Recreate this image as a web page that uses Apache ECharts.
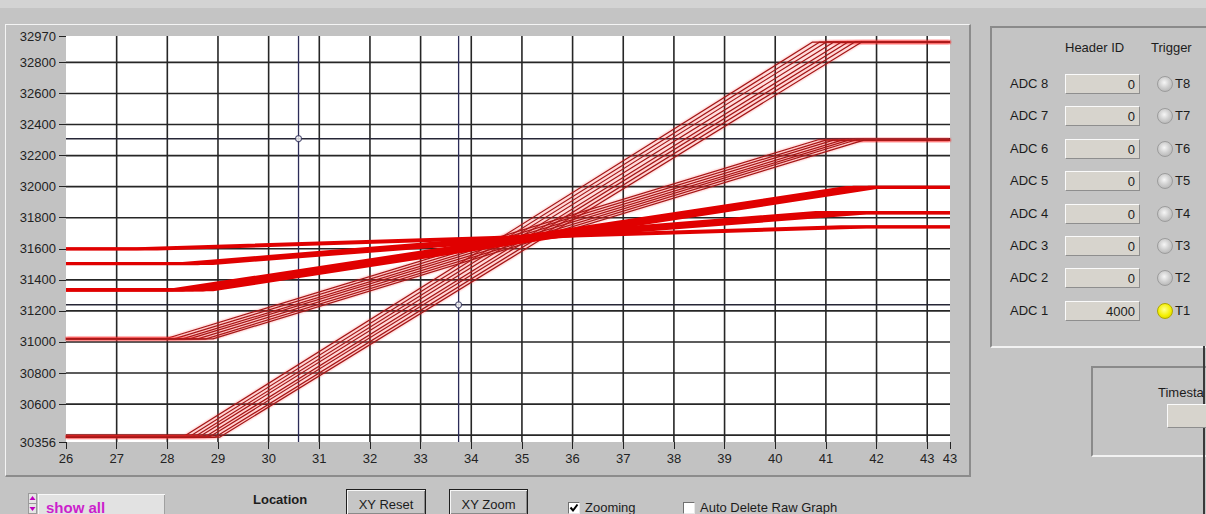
<!DOCTYPE html>
<html>
<head>
<meta charset="utf-8">
<script src="https://cdn.jsdelivr.net/npm/echarts@6/dist/echarts.min.js"></script>
<style>
  body { margin: 0; width: 1206px; height: 514px; background: #c4c4c4; position: relative; overflow: hidden;
         font-family: "Liberation Sans", Arial, sans-serif; color: #1c1c1c; }
  .abs { position: absolute; }
  #topband { left: 0; top: 0; width: 1206px; height: 8px; background: #d3d3d3; }
  #frame { left: 5px; top: 24px; width: 963px; height: 450px; border-top: 1px solid #f4f4f4; border-left: 1px solid #f4f4f4;
           border-right: 2px solid #8c8c8c; border-bottom: 2px solid #8c8c8c; background: #c2c2c2; }
  #chart { left: 0; top: 0; width: 1206px; height: 514px; }
  #adcPanel { left: 990px; top: 26px; width: 230px; height: 318px; border-top: 2px solid #8a8a8a; border-left: 2px solid #8a8a8a;
              border-bottom: 2px solid #f2f2f2; }
  #tsPanel { left: 1091px; top: 366px; width: 130px; height: 87px; border-top: 2px solid #8a8a8a; border-left: 2px solid #8a8a8a;
             border-bottom: 2px solid #f2f2f2; }
  #rightEdge { left: 1203px; top: 346px; width: 2px; height: 168px; background: #3a3a3a; }
  .lbl { font-size: 13px; white-space: nowrap; }
  .box { width: 75px; height: 20px; background: #d7d4cd; border-top: 1px solid #fafafa; border-left: 1px solid #fafafa;
         border-right: 1px solid #8e8e8e; border-bottom: 1px solid #8e8e8e; box-sizing: border-box; text-align: right;
         font-size: 13px; line-height: 19px; padding-right: 4px; }
  .led { width: 16px; height: 16px; border-radius: 50%; box-sizing: border-box; border: 1px solid #9c9c9c;
         background: radial-gradient(circle at 45% 40%, #f6f6f6 0%, #d0d0d0 45%, #a8a8a8 100%); }
  .led.on { background: radial-gradient(circle at 45% 40%, #ffff90 0%, #f4f000 55%, #c8c000 100%); border-color: #b0a800; }
  .btn { height: 26px; background: #c6c6c6; border: 1px solid #1e1e1e; box-shadow: inset 1px 1px 0 #f6f6f6, inset -1px -1px 0 #8a8a8a;
         box-sizing: border-box; font-size: 13px; text-align: center; line-height: 30px; }
  .chk { width: 12px; height: 12px; background: #fff; border-top: 1px solid #707070; border-left: 1px solid #707070;
         border-right: 1px solid #e8e8e8; border-bottom: 1px solid #e8e8e8; box-sizing: border-box; }
</style>
</head>
<body>
<div id="topband" class="abs"></div>
<div id="frame" class="abs"></div>
<div id="adcPanel" class="abs"></div>
<div id="tsPanel" class="abs"></div>
<div id="rightEdge" class="abs"></div>
<div id="chart" class="abs"></div>
<div id="ui"></div>
<script>
// axis ranges
const xMin = 26, xMax = 43.45
const yMin = 30356, yMax = 32970

// tick labels shown on the axes
const xTickValues = [26, 27, 28, 29, 30, 31, 32, 33, 34, 35, 36, 37, 38, 39, 40, 41, 42, 43, 43.45]
const yTickValues = [30356, 30600, 30800, 31000, 31200, 31400, 31600, 31800, 32000, 32200, 32400, 32600, 32800, 32970]

// grid lines
const xGridValues = [27, 28, 29, 30, 31, 32, 33, 34, 35, 36, 37, 38, 39, 40, 41, 42, 43]
const yGridValues = [30400, 30600, 30800, 31000, 31200, 31400, 31600, 31800, 32000, 32200, 32400, 32600, 32800]

// cursors
const cursorX = [30.59, 33.75]
const cursorY = [32309, 31239]

// raw graph traces: [x, y] breakpoints
const groupA = [
  [[26, 30394], [28.34, 30394], [40.73, 32930], [43.45, 32930]],
  [[26, 30392], [28.44, 30392], [40.87, 32930], [43.45, 32930]],
  [[26, 30390], [28.54, 30390], [41.01, 32932], [43.45, 32932]],
  [[26, 30392], [28.64, 30392], [41.15, 32930], [43.45, 32930]],
  [[26, 30388], [28.74, 30388], [41.29, 32928], [43.45, 32928]],
  [[26, 30390], [28.84, 30390], [41.43, 32930], [43.45, 32930]],
  [[26, 30386], [28.94, 30386], [41.57, 32932], [43.45, 32932]],
  [[26, 30388], [29.04, 30388], [41.70, 32930], [43.45, 32930]]
]
const groupB = [
  [[26, 31024], [28.00, 31024], [40.85, 32302], [43.45, 32302]],
  [[26, 31022], [28.15, 31022], [41.00, 32300], [43.45, 32300]],
  [[26, 31020], [28.30, 31020], [41.15, 32300], [43.45, 32300]],
  [[26, 31022], [28.45, 31022], [41.30, 32298], [43.45, 32298]],
  [[26, 31020], [28.60, 31020], [41.45, 32300], [43.45, 32300]],
  [[26, 31018], [28.75, 31018], [41.60, 32302], [43.45, 32302]],
  [[26, 31020], [28.90, 31020], [41.75, 32300], [43.45, 32300]]
]
const groupC = [
  [[26, 31336], [28.1, 31336], [41.40, 31994], [43.45, 31994]],
  [[26, 31334], [28.3, 31334], [41.55, 31996], [43.45, 31996]],
  [[26, 31336], [28.5, 31336], [41.70, 31994], [43.45, 31994]],
  [[26, 31334], [28.7, 31334], [41.85, 31996], [43.45, 31996]],
  [[26, 31336], [28.9, 31336], [42.00, 31994], [43.45, 31994]]
]
const groupD = [
  [[26, 31506], [28.3, 31506], [40.8, 31834], [43.45, 31834]],
  [[26, 31504], [28.6, 31504], [41.3, 31832], [43.45, 31832]],
  [[26, 31506], [28.9, 31506], [41.8, 31830], [43.45, 31830]]
]
const groupE = [
  [[26, 31601], [27.4, 31601], [41.3, 31742], [43.45, 31742]],
  [[26, 31599], [27.8, 31599], [41.8, 31740], [43.45, 31740]]
]

const chart = echarts.init(document.getElementById('chart'), null, { renderer: 'svg' })

const gridSeries = []
xGridValues.forEach(v => {
  gridSeries.push({ type: 'line', z: 1, silent: true, symbol: 'none', data: [[v, yMin], [v, yMax]],
    lineStyle: { color: '#262626', width: 1.6 } })
})
yGridValues.forEach(v => {
  gridSeries.push({ type: 'line', z: 1, silent: true, symbol: 'none', data: [[xMin, v], [xMax, v]],
    lineStyle: { color: '#262626', width: 1.6 } })
})
cursorX.forEach(v => {
  gridSeries.push({ type: 'line', z: 1, silent: true, symbol: 'none', data: [[v, yMin], [v, yMax]],
    lineStyle: { color: '#2c2c58', width: 1.3 } })
})
cursorY.forEach(v => {
  gridSeries.push({ type: 'line', z: 1, silent: true, symbol: 'none', data: [[xMin, v], [xMax, v]],
    lineStyle: { color: '#262636', width: 1.5 } })
})

const traceSeries = []
const thinStyle = { color: '#a01818', width: 1.2, shadowColor: 'rgba(255,40,40,0.6)', shadowBlur: 2 }
const thickStyle = { color: '#e00000', width: 3 }
groupA.forEach(d => traceSeries.push({ type: 'line', z: 3, symbol: 'none', data: d, lineStyle: thinStyle }))
groupB.forEach(d => traceSeries.push({ type: 'line', z: 3, symbol: 'none', data: d, lineStyle: thinStyle }))
groupC.forEach(d => traceSeries.push({ type: 'line', z: 3, symbol: 'none', data: d, lineStyle: thickStyle }))
groupD.forEach(d => traceSeries.push({ type: 'line', z: 3, symbol: 'none', data: d, lineStyle: thickStyle }))
groupE.forEach(d => traceSeries.push({ type: 'line', z: 3, symbol: 'none', data: d, lineStyle: thickStyle }))

chart.setOption({
  animation: false,
  grid: { left: 66, top: 36, width: 884, height: 406, show: true, backgroundColor: '#ffffff', borderWidth: 0 },
  xAxis: {
    type: 'value', min: xMin, max: xMax,
    axisLine: { show: false },
    splitLine: { show: false },
    axisTick: { show: true, customValues: xTickValues, length: 7, lineStyle: { color: '#222', width: 1 } },
    axisLabel: { customValues: xTickValues, formatter: v => v.toFixed(0), color: '#222', fontSize: 13, margin: 10,
      fontFamily: 'Liberation Sans' }
  },
  yAxis: {
    type: 'value', min: yMin, max: yMax,
    axisLine: { show: false },
    splitLine: { show: false },
    axisTick: { show: true, customValues: yTickValues, length: 7, lineStyle: { color: '#222', width: 1 } },
    axisLabel: { customValues: yTickValues, formatter: v => String(v), color: '#222', fontSize: 13, margin: 10,
      fontFamily: 'Liberation Sans' }
  },
  series: gridSeries.concat(traceSeries).concat([{
    type: 'scatter', z: 4, silent: true, symbol: 'circle', symbolSize: 6,
    data: [[cursorX[0], cursorY[0]], [cursorX[1], cursorY[1]]],
    itemStyle: { color: '#ffffff', borderColor: '#30305a', borderWidth: 1.2 }
  }])
})

// front panel controls
const adcNames = ['ADC 8', 'ADC 7', 'ADC 6', 'ADC 5', 'ADC 4', 'ADC 3', 'ADC 2', 'ADC 1']
const headerIds = ['0', '0', '0', '0', '0', '0', '0', '4000']
const triggerNames = ['T8', 'T7', 'T6', 'T5', 'T4', 'T3', 'T2', 'T1']
const triggerOn = [false, false, false, false, false, false, false, true]

let html = ''
html += '<div class="abs lbl" style="left:1065px;top:40px">Header ID</div>'
html += '<div class="abs lbl" style="left:1151px;top:40px">Trigger</div>'
adcNames.forEach((n, i) => {
  const cy = 84 + i * 32.4
  html += `<div class="abs lbl" style="left:1010px;top:${cy - 8}px">${n}</div>`
  html += `<div class="abs box" style="left:1065px;top:${cy - 10}px">${headerIds[i]}</div>`
  html += `<div class="abs led${triggerOn[i] ? ' on' : ''}" style="left:1157px;top:${cy - 8}px"></div>`
  html += `<div class="abs lbl" style="left:1175px;top:${cy - 8}px">${triggerNames[i]}</div>`
})
html += '<div class="abs lbl" style="left:1158px;top:385px">Timesta</div>'
html += '<div class="abs box" style="left:1167px;top:404px;width:60px;height:24px"></div>'

// bottom row
html += '<div class="abs" style="left:28px;top:493px;width:9px;height:21px;background:#e6e6e6;border:1px solid #9a9a9a;box-sizing:border-box"></div>'
html += '<svg class="abs" style="left:28px;top:493px" width="9" height="21"><path d="M1.5 7 L4.5 3 L7.5 7 Z" fill="#c000c0"/><path d="M1.5 14 L4.5 18 L7.5 14 Z" fill="#c000c0"/><line x1="1" y1="10.5" x2="8" y2="10.5" stroke="#9a9a9a"/></svg>'
html += '<div class="abs" style="left:38px;top:494px;width:126px;height:24px;background:#e2e2e2;border-top:1px solid #f8f8f8;border-left:1px solid #f8f8f8;box-shadow:inset -1px 0 0 #a0a0a0"></div>'
html += '<div class="abs" style="left:46px;top:499px;font-size:15px;font-weight:bold;color:#cc1fcc">show all</div>'
html += '<div class="abs" style="left:253px;top:492px;font-size:13px;font-weight:bold">Location</div>'
html += '<div class="abs btn" style="left:346px;top:489px;width:80px">XY Reset</div>'
html += '<div class="abs btn" style="left:449px;top:489px;width:79px">XY Zoom</div>'
html += '<div class="abs chk" style="left:568px;top:502px"></div>'
html += '<svg class="abs" style="left:568px;top:502px" width="12" height="12"><path d="M2.5 5.5 L5 8.5 L9.5 2.5" stroke="#000" stroke-width="2" fill="none"/></svg>'
html += '<div class="abs lbl" style="left:585px;top:500px">Zooming</div>'
html += '<div class="abs chk" style="left:683px;top:502px"></div>'
html += '<div class="abs lbl" style="left:700px;top:500px">Auto Delete Raw Graph</div>'
document.getElementById('ui').innerHTML = html
</script>
</body>
</html>
